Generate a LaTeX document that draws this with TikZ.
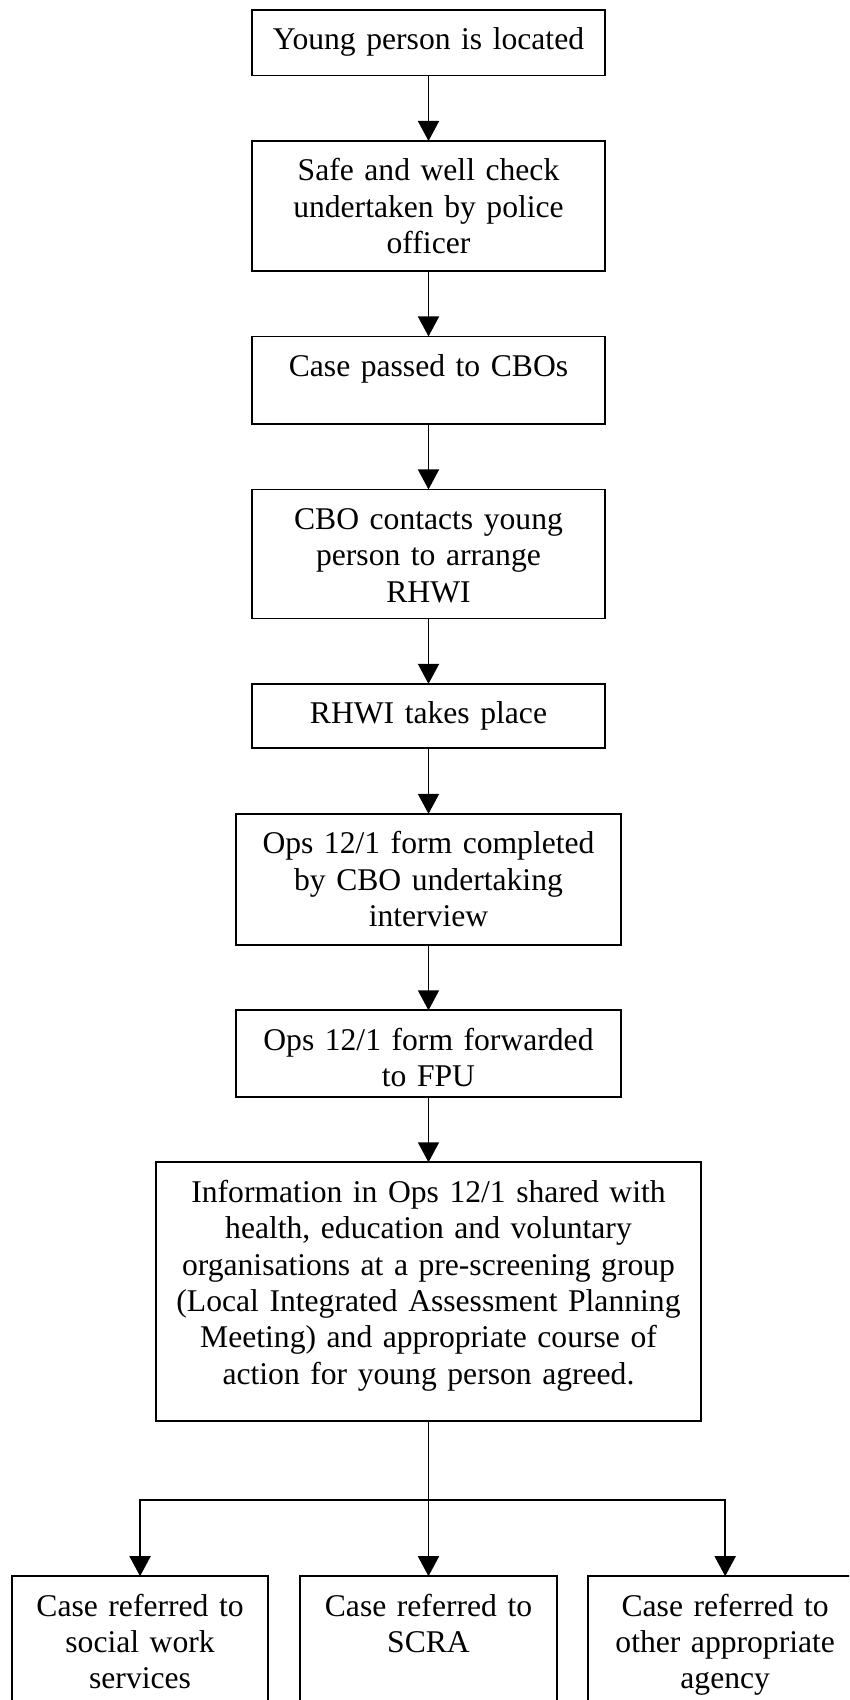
\documentclass[tikz,border=0pt]{standalone}
\usepackage{fontspec}
\setmainfont{Liberation Serif}
\usetikzlibrary{positioning}
\usetikzlibrary{arrows.meta}

\begin{document}
\begin{tikzpicture}[x=0.02cm,y=-0.02cm,
        stepbox/.style={draw,line width=1pt,anchor=north,align=center,
            inner xsep=0.08cm,inner ysep=0pt,outer sep=0pt,text height=0.8cm,
            font=\fontsize{18}{20.7}\selectfont},
        flow/.style={line width=1pt,-{Triangle[width=0.42cm,length=0.4cm]}},
        node distance=1.31cm]
        \useasboundingbox (0,0) rectangle (849,1700);
        \clip (0,0) rectangle (849,1700);
        \node[stepbox,text width=6.9cm,text depth=0.51cm] (located) at (428.5,10) {Young person is located};
        \node[stepbox,text width=6.9cm,text depth=1.8cm,below=of located] (check) {Safe and well check\\undertaken by police\\officer};
        \node[stepbox,text width=6.9cm,text depth=0.95cm,below=of check] (passed) {Case passed to CBOs};
        \node[stepbox,text width=6.9cm,text depth=1.78cm,below=of passed] (contact) {CBO contacts young\\person to arrange\\RHWI};
        \node[stepbox,text width=6.9cm,text depth=0.49cm,below=of contact] (rhwi) {RHWI takes place};
        \node[stepbox,text width=7.55cm,text depth=1.82cm,below=of rhwi] (completed) {Ops 12/1 form completed\\by CBO undertaking\\interview};
        \node[stepbox,text width=7.55cm,text depth=0.93cm,below=of completed] (forwarded) {Ops 12/1 form forwarded\\to FPU};
        \node[stepbox,text width=10.74cm,text depth=4.38cm,below=of forwarded] (info) {Information in Ops 12/1 shared with\\health, education and voluntary\\organisations at a pre-screening group\\(Local Integrated Assessment Planning\\Meeting) and appropriate course of\\action for young person agreed.};
        % the three outcomes
        \node[stepbox,text width=4.97cm,text depth=4cm,below=3.1cm of info] (scra) {Case referred to\\SCRA};
        \node[stepbox,text width=4.97cm,text depth=4cm,left=0.64cm of scra] (services) {Case referred to\\social work\\services};
        \node[stepbox,text width=5.32cm,text depth=4cm,right=0.63cm of scra] (agency) {Case referred to\\other appropriate\\agency};
        \coordinate[below=1.57cm of info] (split);
        \draw[flow] (located) -- (check);
        \draw[flow] (check) -- (passed);
        \draw[flow] (passed) -- (contact);
        \draw[flow] (contact) -- (rhwi);
        \draw[flow] (rhwi) -- (completed);
        \draw[flow] (completed) -- (forwarded);
        \draw[flow] (forwarded) -- (info);
        \draw[flow] (info) -- (scra);
        \draw[flow] (split) -| (services.north);
        \draw[flow] (split) -| (agency.north);
    \end{tikzpicture}
\end{document}
